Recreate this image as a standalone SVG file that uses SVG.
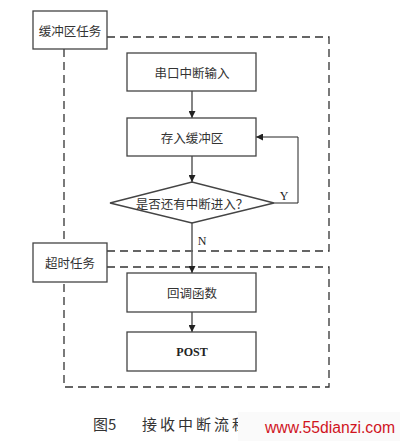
<svg xmlns="http://www.w3.org/2000/svg" width="400" height="441" viewBox="0 0 400 441">
<style>
.box{fill:#fff;stroke:#444;stroke-width:1.3}
.dash{fill:none;stroke:#333;stroke-width:1.3;stroke-dasharray:8 5}
.ln{fill:none;stroke:#666;stroke-width:1.6}
.thin{fill:none;stroke:#222;stroke-width:1}
.t{font-family:"Noto Sans CJK SC","Noto Sans",sans-serif;font-size:12.5px;fill:#333;text-anchor:middle;dominant-baseline:central}
.s{font-family:"Liberation Serif",serif;font-size:12px;fill:#222;text-anchor:middle;dominant-baseline:central}
</style>
<defs>
<marker id="ah" viewBox="0 0 10 10" refX="10" refY="5" markerWidth="7" markerHeight="7" markerUnits="userSpaceOnUse" orient="auto"><path d="M0,0L10,5L0,10z" fill="#222"/></marker>
</defs>
<rect width="400" height="441" fill="#fff"/>
<g id="regions">
<path class="dash" d="M107,37H329V251H107"/>
<path class="dash" d="M64,49V243"/>
<path class="dash" d="M107,267H329V387H64V282"/>
</g>
<g id="connectors">
<line class="ln" x1="192" y1="91" x2="192" y2="118" marker-end="url(#ah)"/>
<line class="ln" x1="192" y1="156" x2="192" y2="182" marker-end="url(#ah)"/>
<path class="thin" d="M274,203H298V137H256" marker-end="url(#ah)"/>
<line class="ln" x1="192" y1="223" x2="192" y2="273" marker-end="url(#ah)"/>
<line class="ln" x1="192" y1="312" x2="192" y2="332" marker-end="url(#ah)"/>
<text class="s" x="284" y="196">Y</text>
<text class="s" x="202" y="241">N</text>
</g>
<g id="task1"><rect class="box" x="33" y="11" width="74" height="38"/><text class="t" x="70" y="30">缓冲区任务</text></g>
<g id="task2"><rect class="box" x="33" y="243" width="74" height="39"/><text class="t" x="70" y="262">超时任务</text></g>
<g id="n1"><rect class="box" x="127" y="53" width="129" height="38"/><text class="t" x="192" y="72">串口中断输入</text></g>
<g id="n2"><rect class="box" x="127" y="118" width="129" height="38"/><text class="t" x="192" y="137">存入缓冲区</text></g>
<g id="n3"><polygon class="box" points="110,203 192,182 274,203 192,223"/><text class="t" x="192" y="203">是否还有中断进入？</text></g>
<g id="n4"><rect class="box" x="127" y="273" width="129" height="39"/><text class="t" x="192" y="292">回调函数</text></g>
<g id="n5"><rect class="box" x="127" y="332" width="129" height="39"/><text class="s" x="192" y="352" font-weight="bold">POST</text></g>
<g id="caption">
<text x="93" y="430" font-family="Noto Sans CJK SC,sans-serif" font-size="15" fill="#333">图5</text>
<text x="142" y="430" font-family="Noto Sans CJK SC,sans-serif" font-size="15" fill="#333" letter-spacing="3">接收中断流程图</text>
<rect x="238" y="412" width="162" height="29" fill="#fafafa"/>
<text x="265" y="433" font-family="Liberation Sans,sans-serif" font-size="16" textLength="130" lengthAdjust="spacingAndGlyphs" fill="#d0141e">www.55dianzi.com</text>
</g>
</svg>
